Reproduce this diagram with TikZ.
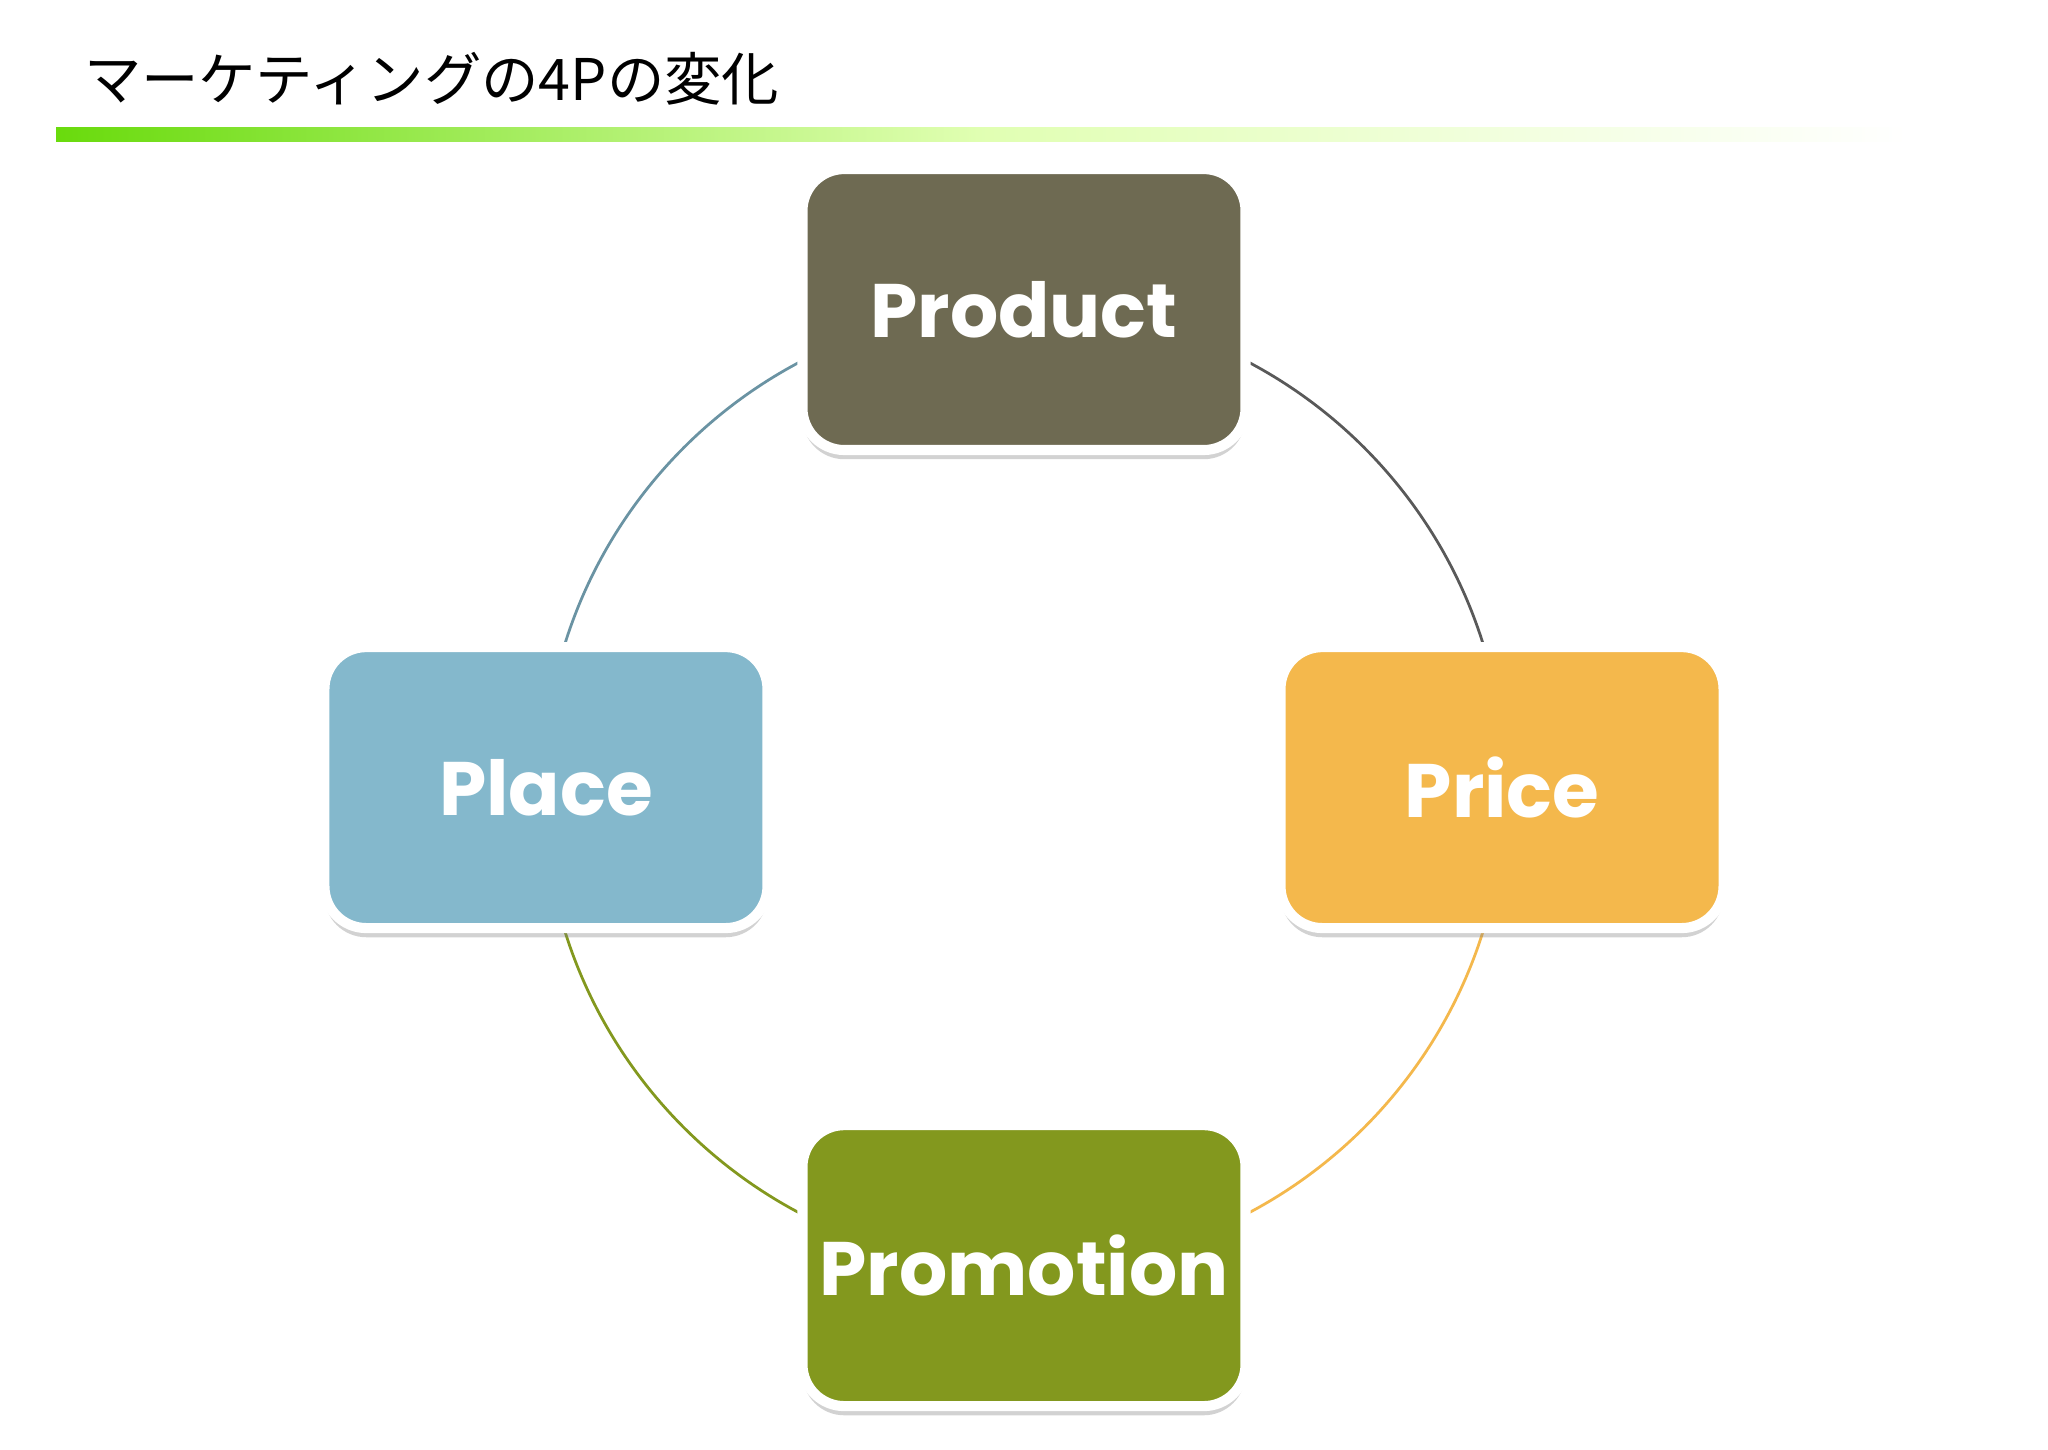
\documentclass[tikz,border=0pt]{standalone}
\usepackage{fontspec}
\setmainfont{Poppins}
\newfontfamily\cjk{Noto Sans CJK JP}
\usetikzlibrary{shadows}
\definecolor{cprod}{HTML}{6E6A52}
\definecolor{cplace}{HTML}{84B8CC}
\definecolor{cprice}{HTML}{F4B84C}
\definecolor{cpromo}{HTML}{83981E}
\begin{document}
\begin{tikzpicture}[x=0.01cm,y=-0.01cm,
  pbox/.style={draw=white,line width=2.2pt,rounded corners=0.32cm,minimum width=3.39cm,minimum height=2.15cm,
    drop shadow={shadow xshift=0pt,shadow yshift=-2pt,opacity=0.35},
    text=white,font=\fontsize{16.5}{18}\selectfont\bfseries},
  arcl/.style={line width=0.6pt}]
\fill[white] (0,0) rectangle (1568,1110);
\useasboundingbox (0,0) rectangle (1568,1110);
\node[anchor=west,font=\cjk\fontsize{12.5}{14}\selectfont] (title) at (52,60) {マーケティングの4Pの変化};
\shade[left color=green!55!yellow!85!black!95, right color=white, middle color=green!40!yellow!30] (43,98) rectangle (1460,108);
\coordinate (c) at (784,603);
\draw[arcl,color=cplace!80!black] (c) ++(90:3.68cm) arc[start angle=90,end angle=180,radius=3.68cm];
\draw[arcl,color=black!65] (c) ++(0:3.68cm) arc[start angle=0,end angle=90,radius=3.68cm];
\draw[arcl,color=cprice] (c) ++(270:3.68cm) arc[start angle=270,end angle=360,radius=3.68cm];
\draw[arcl,color=cpromo] (c) ++(180:3.68cm) arc[start angle=180,end angle=270,radius=3.68cm];
\node[pbox,fill=cprod] (product) at (784,237) {Product};
\node[pbox,fill=cplace] (place) at (418,603) {Place};
\node[pbox,fill=cprice] (price) at (1150,603) {Price};
\node[pbox,fill=cpromo] (promotion) at (784,969) {Promotion};
\end{tikzpicture}
\end{document}
